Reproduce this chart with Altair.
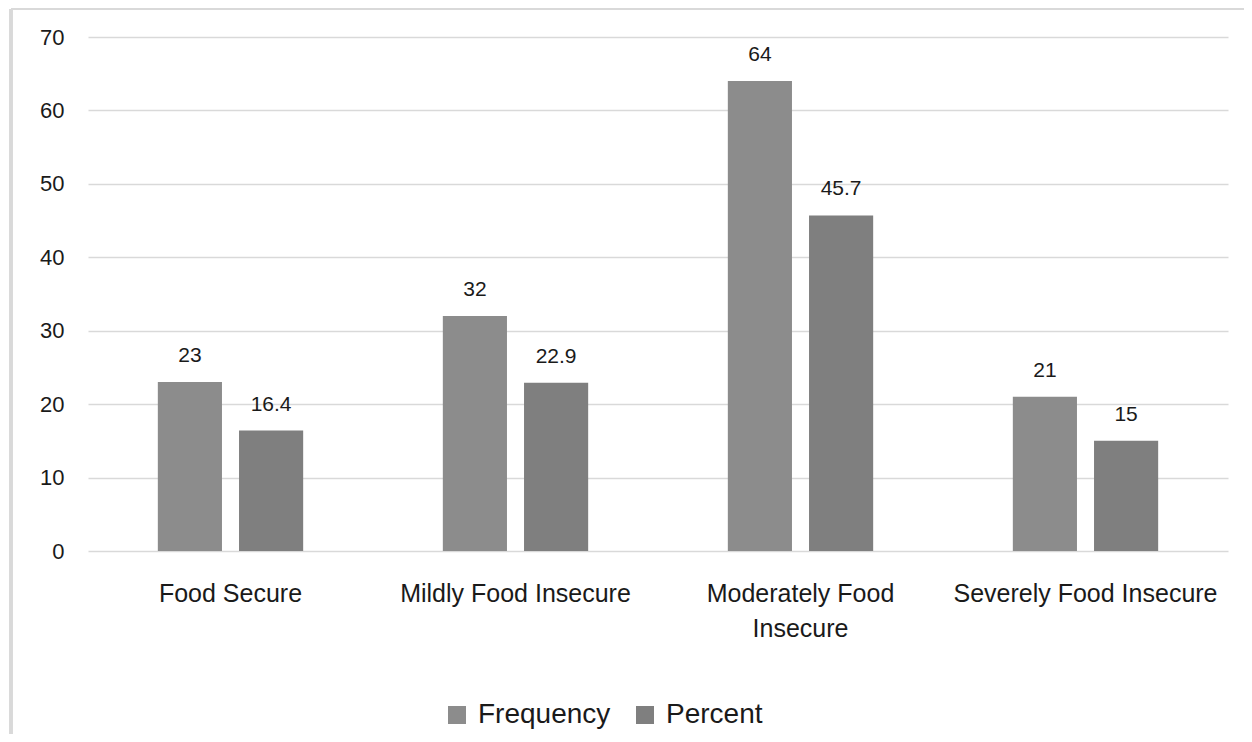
import altair as alt
import pandas as pd

categories = ["Food Secure", "Mildly Food Insecure", "Moderately Food Insecure", "Severely Food Insecure"]
series = ["Frequency", "Percent"]
frequency = [23, 32, 64, 21]
percent = [16.4, 22.9, 45.7, 15]
y_ticks = [0, 10, 20, 30, 40, 50, 60, 70]

rows = []
for i, c in enumerate(categories):
    rows.append({"category": c, "series": "Frequency", "value": frequency[i], "label": f"{frequency[i]:g}"})
    rows.append({"category": c, "series": "Percent", "value": percent[i], "label": f"{percent[i]:g}"})
df = pd.DataFrame(rows)

FONT = "Liberation Sans"
TEXT = "#1a1a1a"
GRID = "#d9d9d9"

x_enc = alt.X(
    "category:N",
    sort=categories,
    scale=alt.Scale(paddingInner=0.49, paddingOuter=0.245),
    axis=alt.Axis(
        title=None, domain=False, ticks=False, labelAngle=0,
        labelFontSize=25, labelPadding=30, labelColor=TEXT, labelFont=FONT,
        labelLineHeight=35, labelLimit=400,
        labelExpr="datum.label == 'Moderately Food Insecure' ? ['Moderately Food', 'Insecure'] : datum.label",
    ),
)
xo_enc = alt.XOffset("series:N", sort=series, scale=alt.Scale(paddingInner=0.21, paddingOuter=0))
y_enc = alt.Y(
    "value:Q",
    scale=alt.Scale(domain=[0, 70], nice=False),
    axis=alt.Axis(
        title=None, values=y_ticks, domain=False, ticks=False,
        labelFontSize=22, labelPadding=24, labelColor=TEXT, labelFont=FONT,
        gridColor=GRID, gridWidth=1.5,
    ),
)

bars = alt.Chart(df).mark_bar().encode(
    x=x_enc,
    xOffset=xo_enc,
    y=y_enc,
    color=alt.Color(
        "series:N",
        sort=series,
        scale=alt.Scale(domain=series, range=["#8c8c8c", "#7f7f7f"]),
        legend=alt.Legend(
            title=None, orient="none", direction="horizontal",
            legendX=355, legendY=664,
            symbolType="square", symbolSize=324, symbolStrokeWidth=0,
            labelFontSize=28, labelFont=FONT, labelColor=TEXT,
            labelOffset=7, columnPadding=20, padding=0,
        ),
    ),
)

labels = alt.Chart(df).mark_text(
    baseline="middle", dy=-26, fontSize=21, font=FONT, color=TEXT
).encode(
    x=alt.X("category:N", sort=categories),
    xOffset=alt.XOffset("series:N", sort=series),
    y="value:Q",
    text="label:N",
)

top_border = alt.Chart(df).mark_rule(color=GRID, strokeWidth=2).encode(
    x=alt.value(-77), x2=alt.value(1160), y=alt.value(-28)
)
left_border = alt.Chart(df).mark_rule(color=GRID, strokeWidth=3).encode(
    x=alt.value(-77), y=alt.value(-28), y2=alt.value(700)
)

chart = alt.layer(top_border, left_border, bars, labels).properties(
    width=1140,
    height=514,
    background="white",
    autosize=alt.AutoSizeParams(type="none"),
    padding={"left": 80, "top": 29, "right": 16, "bottom": 183},
).configure_view(strokeWidth=0)

chart.save("out.html", embed_options={"renderer": "svg", "actions": False})
